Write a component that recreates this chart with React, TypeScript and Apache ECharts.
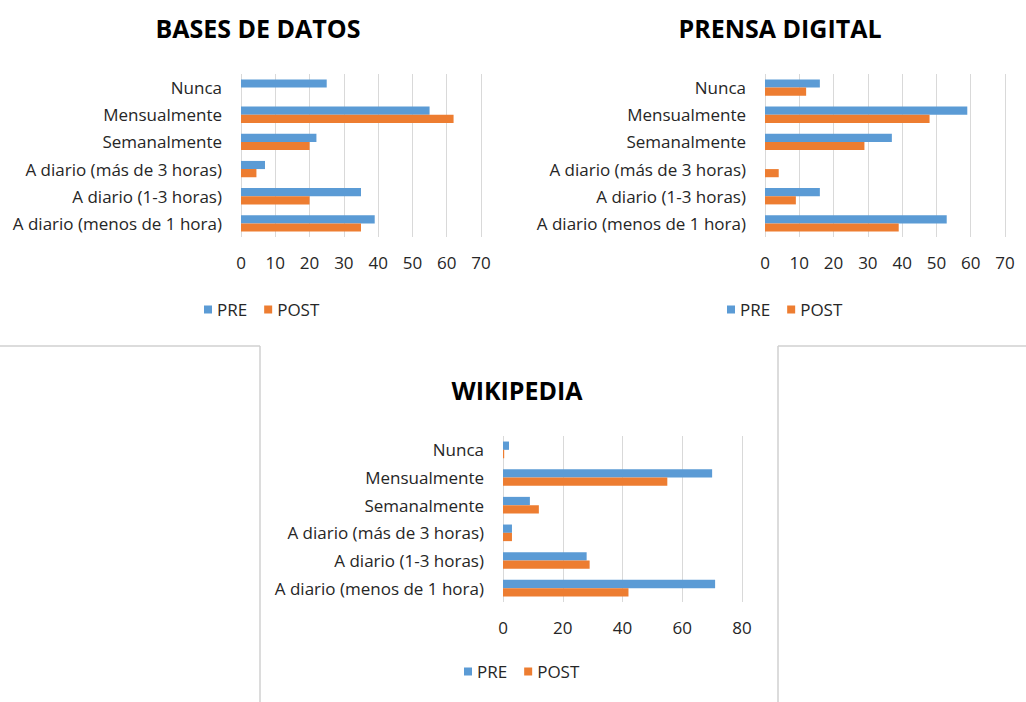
import React, { useEffect, useRef } from "react";
import * as echarts from "echarts";

const categories = [
  "A diario (menos de 1 hora)",
  "A diario (1-3 horas)",
  "A diario (más de 3 horas)",
  "Semanalmente",
  "Mensualmente",
  "Nunca",
];

const titles = ["BASES DE DATOS", "PRENSA DIGITAL", "WIKIPEDIA"];
const seriesNames = ["PRE", "POST"];

const basesPre = [39, 35, 7, 22, 55, 25];
const basesPost = [35, 20, 4.5, 20, 62, 0];
const prensaPre = [53, 16, 0, 37, 59, 16];
const prensaPost = [39, 9, 4, 29, 48, 12];
const wikiPre = [71, 28, 3, 9, 70, 2];
const wikiPost = [42, 29, 3, 12, 55, 0.4];

const axisMax = [70, 70, 80];
const axisInterval = [10, 10, 20];

const BLUE = "#5B9BD5";
const ORANGE = "#ED7D31";
const FONT = "Open Sans";

export default function App() {
  const ref = useRef<HTMLDivElement>(null);
  useEffect(() => {
    if (!ref.current) return;
    const chart = echarts.init(ref.current, undefined, { renderer: "svg" });
    const grids = [
      { left: 241, top: 74, width: 240, height: 163 },
      { left: 765, top: 74, width: 240, height: 163 },
      { left: 503, top: 436, width: 239, height: 166 },
    ];
    const data = [
      [basesPre, basesPost],
      [prensaPre, prensaPost],
      [wikiPre, wikiPost],
    ];
    const titlePos = [
      { x: 258, y: 28 },
      { x: 780, y: 28 },
      { x: 517, y: 390 },
    ];
    const legendPos = [
      { left: 204, top: 301 },
      { left: 727, top: 301 },
      { left: 464, top: 663 },
    ];
    const series: any[] = [];
    data.forEach((pair, gi) => {
      pair.forEach((vals, si) => {
        series.push({
          type: "bar",
          name: seriesNames[si],
          xAxisIndex: gi,
          yAxisIndex: gi,
          data: vals,
          barGap: "0%",
          barCategoryGap: "40%",
          itemStyle: { color: si === 0 ? BLUE : ORANGE },
        });
      });
    });
    const option: any = {
      animation: false,
      backgroundColor: "#ffffff",
      textStyle: { fontFamily: FONT },
      grid: grids.map((g) => ({ ...g, containLabel: false })),
      xAxis: grids.map((_, i) => ({
        type: "value",
        gridIndex: i,
        min: 0,
        max: axisMax[i],
        interval: axisInterval[i],
        axisLine: { show: false },
        axisTick: { show: false },
        splitLine: { show: true, lineStyle: { color: "#d9d9d9", width: 1 } },
        axisLabel: { fontSize: 17, color: "#262626", margin: 17, fontFamily: FONT },
      })),
      yAxis: grids.map((_, i) => ({
        type: "category",
        gridIndex: i,
        data: categories,
        axisLine: { show: false },
        axisTick: { show: false },
        axisLabel: { fontSize: 17, color: "#262626", margin: 19, fontFamily: FONT },
      })),
      legend: legendPos.map((p) => ({
        left: p.left,
        top: p.top,
        data: seriesNames,
        icon: "rect",
        itemWidth: 8,
        itemHeight: 8,
        itemGap: 17,
        padding: 0,
        textStyle: { fontSize: 17, color: "#262626", fontFamily: FONT },
      })),
      graphic: [
        ...titles.map((t, i) => ({
          type: "text",
          x: titlePos[i].x,
          y: titlePos[i].y,
          style: {
            text: t,
            align: "center",
            verticalAlign: "middle",
            fontSize: 25,
            fontWeight: "bold",
            fontFamily: FONT,
            fill: "#000000",
          },
        })),
        { type: "line", shape: { x1: 0, y1: 346, x2: 260, y2: 346 }, style: { stroke: "#d0d0d0", lineWidth: 1.5 } },
        { type: "line", shape: { x1: 778, y1: 346, x2: 1026, y2: 346 }, style: { stroke: "#d0d0d0", lineWidth: 1.5 } },
        { type: "line", shape: { x1: 260, y1: 346, x2: 260, y2: 702 }, style: { stroke: "#d0d0d0", lineWidth: 1.5 } },
        { type: "line", shape: { x1: 778, y1: 346, x2: 778, y2: 702 }, style: { stroke: "#d0d0d0", lineWidth: 1.5 } },
      ],
      series,
    };
    chart.setOption(option);
    return () => chart.dispose();
  }, []);
  return (
    <div
      ref={ref}
      style={{ position: "absolute", left: 0, top: 0, width: 1026, height: 702 }}
    />
  );
}
